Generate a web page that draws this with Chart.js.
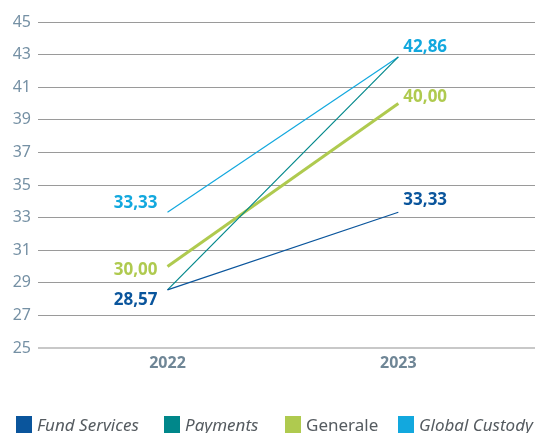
<!DOCTYPE html>
<html>
<head>
<meta charset="utf-8">
<script src="https://cdn.jsdelivr.net/npm/chart.js@4/dist/chart.umd.min.js"></script>
<style>
  html, body { margin: 0; padding: 0; background: #fff; }
  #wrap { width: 535px; height: 433px; position: relative; }
</style>
</head>
<body>
<div id="wrap"><canvas id="chart"></canvas></div>
<script>
// data
const years = [2022, 2023];
const yTicks = [25, 27, 29, 31, 33, 35, 37, 39, 41, 43, 45];
const fundServices = [28.57, 33.33];
const payments = [28.57, 42.86];
const generale = [30.00, 40.00];
const globalCustody = [33.33, 42.86];

const FONT = "'Noto Sans', sans-serif";
const fmt = v => v.toFixed(2).replace(".", ",");

function pts(values) {
  return values.map((v, i) => ({ x: years[i], y: v }));
}

// labels next to the points (drawn on canvas)
const valueLabels = {
  id: "valueLabels",
  afterDatasetsDraw(chart) {
    const ctx = chart.ctx;
    ctx.save();
    ctx.font = "bold 17px " + FONT;
    ctx.textBaseline = "middle";
    chart.data.datasets.forEach((ds, di) => {
      const meta = chart.getDatasetMeta(di);
      meta.data.forEach((pt, i) => {
        const off = ds.labelOffsets[i];
        if (off === null) return;
        ctx.fillStyle = ds.borderColor;
        if (i === 0) {
          ctx.textAlign = "right";
          ctx.fillText(fmt(ds.data[i].y), pt.x - 10, pt.y + off);
        } else {
          ctx.textAlign = "left";
          ctx.fillText(fmt(ds.data[i].y), pt.x + 5, pt.y + off);
        }
      });
    });
    ctx.restore();
  }
};

// legend at the bottom, some entries in italic
const bottomLegend = {
  id: "bottomLegend",
  afterDraw(chart) {
    const ctx = chart.ctx;
    const xs = [16, 164, 285, 398];
    ctx.save();
    ctx.textBaseline = "alphabetic";
    ctx.textAlign = "left";
    chart.data.datasets.forEach((ds, i) => {
      ctx.fillStyle = ds.borderColor;
      ctx.fillRect(xs[i], 416, 16, 17);
      ctx.fillStyle = "#555b60";
      ctx.font = (ds.italic ? "italic " : "") + "17px " + FONT;
      ctx.fillText(ds.label, xs[i] + 21, 431);
    });
    ctx.restore();
  }
};

new Chart(document.getElementById("chart"), {
  type: "line",
  data: {
    datasets: [
      { label: "Fund Services", data: pts(fundServices), borderColor: "#0a559c", borderWidth: 1.2, italic: true, labelOffsets: [10, -12] },
      { label: "Payments", data: pts(payments), borderColor: "#00878a", borderWidth: 1.2, italic: true, labelOffsets: [null, null] },
      { label: "Generale", data: pts(generale), borderColor: "#afca4f", borderWidth: 3, italic: false, labelOffsets: [4, -6] },
      { label: "Global Custody", data: pts(globalCustody), borderColor: "#12a8de", borderWidth: 1.2, italic: true, labelOffsets: [-9, -10] }
    ]
  },
  options: {
    responsive: true,
    maintainAspectRatio: false,
    animation: false,
    layout: { padding: { top: 22, right: 0, left: 0, bottom: 0 } },
    elements: { point: { radius: 0 }, line: { tension: 0, borderCapStyle: "butt" } },
    plugins: { legend: { display: false }, tooltip: { enabled: false } },
    scales: {
      x: {
        type: "linear",
        min: 2021.439,
        max: 2023.592,
        afterBuildTicks: s => { s.ticks = years.map(v => ({ value: v })); },
        afterFit: s => { s.height = 85; },
        grid: { display: false },
        border: { display: false },
        ticks: {
          color: "#6f8696",
          font: { family: FONT, size: 16, weight: "bold" },
          padding: -2,
          callback: v => String(v)
        }
      },
      y: {
        min: 25,
        max: 45,
        afterBuildTicks: s => { s.ticks = yTicks.map(v => ({ value: v })); },
        afterFit: s => { s.width = 38; },
        border: { display: false },
        grid: {
          drawTicks: false,
          color: c => c.tick && c.tick.value === 25 ? "#c8c8c8" : "#9a9a9a",
          lineWidth: c => c.tick && c.tick.value === 25 ? 2 : 1
        },
        ticks: {
          color: "#7590a4",
          font: { family: FONT, size: 16 },
          padding: 7
        }
      }
    }
  },
  plugins: [valueLabels, bottomLegend]
});
</script>
</body>
</html>
